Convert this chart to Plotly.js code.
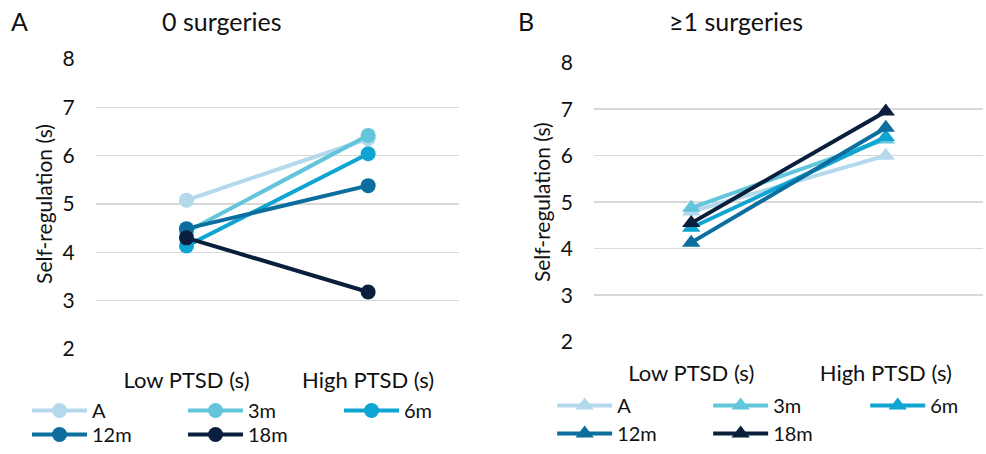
<!DOCTYPE html>
<html>
<head>
<meta charset="utf-8">
<script src="https://cdn.plot.ly/plotly-3.0.1.min.js"></script>
<style>
  html, body { margin: 0; padding: 0; background: #fff; }
  #chart { width: 986px; height: 454px; }
</style>
</head>
<body>
<div id="chart"></div>
<script>
// PTSD group categories on the x axis
const categories = ['Low PTSD (s)', 'High PTSD (s)'];
// Assessment time points
const seriesNames = ['A', '3m', '6m', '12m', '18m'];
const seriesColors = ['#B4D8EC', '#62C5DC', '#0EA5D3', '#0B6E9E', '#0A1F3D'];

// Panel A: 0 surgeries (values at Low / High PTSD)
const zeroLow  = [5.08, 4.42, 4.13, 4.49, 4.30];
const zeroHigh = [6.35, 6.42, 6.04, 5.38, 3.18];

// Panel B: >=1 surgeries
const oneLow  = [4.80, 4.88, 4.45, 4.13, 4.55];
const oneHigh = [6.00, 6.35, 6.40, 6.60, 6.95];

const yTicks = [2, 3, 4, 5, 6, 7, 8];

const FONT = 'Lato, "Open Sans", sans-serif';
const TXT = '#111111';

// Legend rows: three entries on top, two below. In panel B the third
// entry gets its own narrower legend so the row stays inside the page.
const rowLegend = (panel, i) => {
  if (panel === 0) return i < 3 ? 'legend' : 'legend3';
  if (i < 2) return 'legend2';
  if (i === 2) return 'legend5';
  return 'legend4';
};

const traces = [];
seriesNames.forEach((name, i) => {
  traces.push({
    type: 'scatter', mode: 'lines+markers', name: name,
    x: categories, y: [zeroLow[i], zeroHigh[i]],
    xaxis: 'x', yaxis: 'y', legend: rowLegend(0, i),
    line: { color: seriesColors[i], width: 4 },
    marker: { symbol: 'circle', size: 15, color: seriesColors[i] }
  });
});
seriesNames.forEach((name, i) => {
  traces.push({
    type: 'scatter', mode: 'lines+markers', name: name,
    x: categories, y: [oneLow[i], oneHigh[i]],
    xaxis: 'x2', yaxis: 'y2', legend: rowLegend(1, i),
    line: { color: seriesColors[i], width: 4 },
    marker: { symbol: 'triangle-up', size: 16, color: seriesColors[i] }
  });
});

const xBase = {
  type: 'category', range: [-0.5, 1.5], showgrid: false, zeroline: false,
  showline: false, ticks: '', ticklabelstandoff: 16,
  tickfont: { family: FONT, size: 22, color: TXT }
};
const yBase = {
  range: [2, 8], tickvals: yTicks, showgrid: true, gridcolor: '#D9D9D9', gridwidth: 1.5,
  zeroline: false, showline: false, ticks: '', ticklabelstandoff: 20,
  tickfont: { family: FONT, size: 21, color: TXT },
  title: { text: 'Self-regulation (s)', font: { family: FONT, size: 21, color: TXT }, standoff: 4 }
};

const legendBase = {
  orientation: 'h', xanchor: 'left',
  font: { family: FONT, size: 20, color: TXT },
  entrywidth: 86, itemwidth: 55, bgcolor: 'rgba(0,0,0,0)'
};

const layout = {
  width: 986, height: 454,
  margin: { l: 0, r: 0, t: 0, b: 0 },
  paper_bgcolor: '#fff', plot_bgcolor: '#fff',
  showlegend: true,
  xaxis: Object.assign({}, xBase, { domain: [0.097, 0.4655], anchor: 'y' }),
  yaxis: Object.assign({}, yBase, { domain: [0.2313, 0.870], anchor: 'x' }),
  xaxis2: Object.assign({}, xBase, { domain: [0.6024, 0.997], anchor: 'y2' }),
  yaxis2: Object.assign({}, yBase, { domain: [0.2474, 0.8619], anchor: 'x2' }),
  legend:  Object.assign({}, legendBase, { x: 0.0274, y: 1 - 391 / 454, yanchor: 'top' }),
  legend3: Object.assign({}, legendBase, { x: 0.0274, y: 0, yanchor: 'bottom' }),
  legend2: Object.assign({}, legendBase, { x: 0.560, y: 1 - 386 / 454, yanchor: 'top' }),
  legend5: Object.assign({}, legendBase, { x: 0.8775, y: 1 - 386 / 454, yanchor: 'top', entrywidth: 32 }),
  legend4: Object.assign({}, legendBase, { x: 0.560, y: 0.002, yanchor: 'bottom' }),
  annotations: [
    { text: 'A', x: 9, y: 21, anchor: 'left' },
    { text: 'B', x: 516, y: 21, anchor: 'left' },
    { text: '0 surgeries', x: 222, y: 21, anchor: 'center' },
    { text: '≥1 surgeries', x: 736, y: 21, anchor: 'center' }
  ].map(a => ({
    text: a.text, xref: 'paper', yref: 'paper', showarrow: false,
    x: a.x / 986, y: 1 - a.y / 454,
    xanchor: a.anchor, yanchor: 'middle',
    font: { family: FONT, size: 25, color: TXT }
  }))
};

Plotly.newPlot('chart', traces, layout, { staticPlot: true, displayModeBar: false });
</script>
</body>
</html>
